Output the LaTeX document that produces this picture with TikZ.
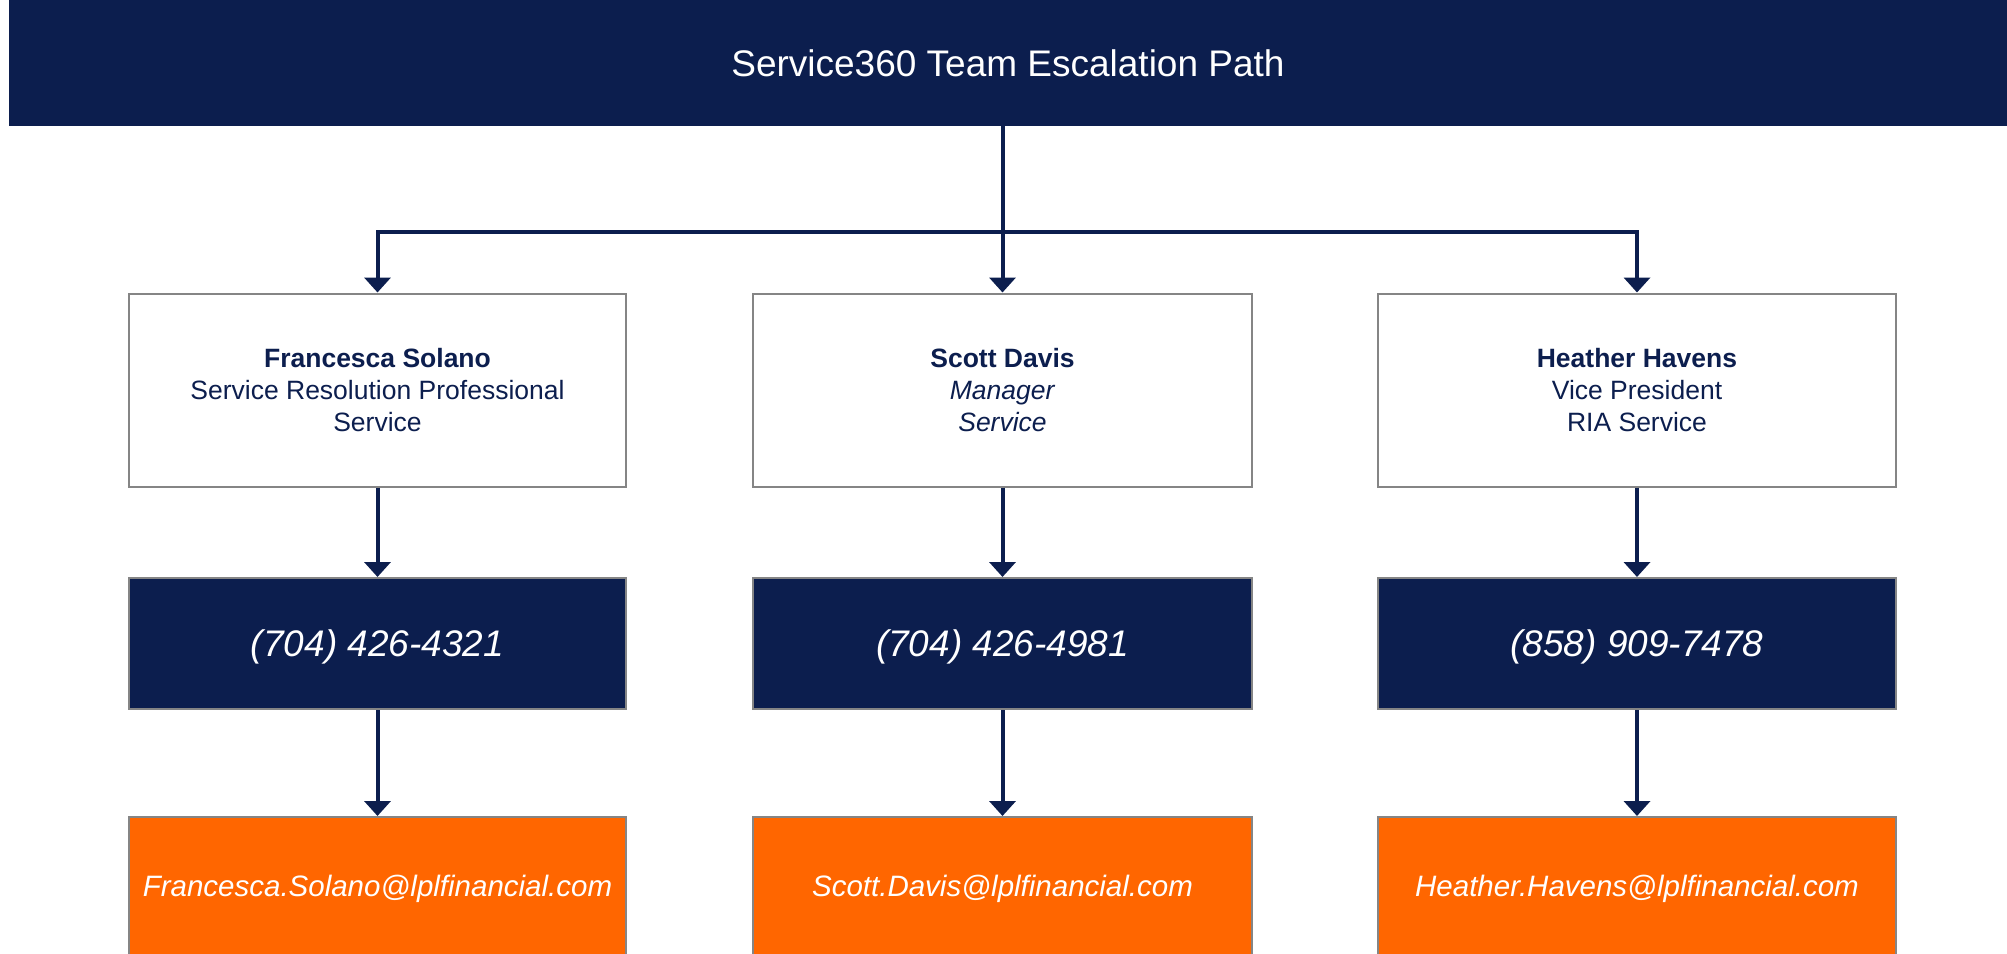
\documentclass[tikz,border=0pt]{standalone}
\usepackage{fontspec}
\setmainfont{Liberation Sans}
\usetikzlibrary{arrows.meta}
\definecolor{lpln}{RGB}{12,30,78}
\definecolor{lplo}{RGB}{255,102,0}
\colorlet{rim}{black!48}
\tikzset{
    banner/.style={fill=lpln,text=white,inner sep=0pt,minimum width=1998pt,minimum height=126pt,font=\fontsize{37}{44}\selectfont},
    card/.style={draw=rim,line width=2pt,fill=white,text=lpln,align=center,inner sep=0pt,minimum height=193pt,font=\fontsize{26.5}{32}\selectfont},
    tel/.style={draw=rim,line width=2pt,fill=lpln,text=white,inner sep=0pt,text depth=0pt,minimum height=131pt,font=\fontsize{37}{44}\selectfont\itshape},
    mail/.style={draw=rim,line width=2pt,fill=lplo,text=white,inner sep=0pt,text depth=0pt,minimum height=138pt,font=\fontsize{29.5}{35}\selectfont\itshape},
    link/.style={lpln,line width=4pt,-{Triangle[width=26pt,length=15pt]}}
}

\begin{document}
\begin{tikzpicture}[x=1pt,y=-1pt]
        \def\ya{390}
        \def\yb{643.5}
        \def\yc{886}
        \useasboundingbox (0,0) rectangle (2007,953);
        \node [banner] (title) at (1008,63) {Service360 Team Escalation Path};
        \node [card,minimum width=497pt] (fs) at (377.5,\ya) {\textbf{Francesca Solano}\\Service Resolution Professional\\Service};
        \node [card,minimum width=499pt] (sd) at (1002.5,\ya) {\textbf{Scott Davis}\\\textit{Manager}\\\textit{Service}};
        \node [card,minimum width=518pt] (hh) at (1637,\ya) {\textbf{Heather Havens}\\Vice President\\RIA Service};
        \node [tel,minimum width=497pt] (fs-tel) at (377.5,\yb) {(704) 426-4321};
        \node [tel,minimum width=499pt] (sd-tel) at (1002.5,\yb) {(704) 426-4981};
        \node [tel,minimum width=518pt] (hh-tel) at (1637,\yb) {(858) 909-7478};
        \node [mail,minimum width=497pt] (fs-mail) at (377.5,\yc) {Francesca.Solano@lplfinancial.com};
        \node [mail,minimum width=499pt] (sd-mail) at (1002.5,\yc) {Scott.Davis@lplfinancial.com};
        \node [mail,minimum width=518pt] (hh-mail) at (1637,\yc) {Heather.Havens@lplfinancial.com};
        \draw [link] (title.south -| sd.north) -- (sd.north);
        \coordinate (split) at (sd.north |- 0,232);
        \draw [link] (split) -| (fs.north);
        \draw [link] (split) -| (hh.north);
        \foreach \p in {fs,sd,hh} {
            \draw [link] (\p) -- (\p-tel);
            \draw [link] (\p-tel) -- (\p-mail);
        }
    \end{tikzpicture}
\end{document}
